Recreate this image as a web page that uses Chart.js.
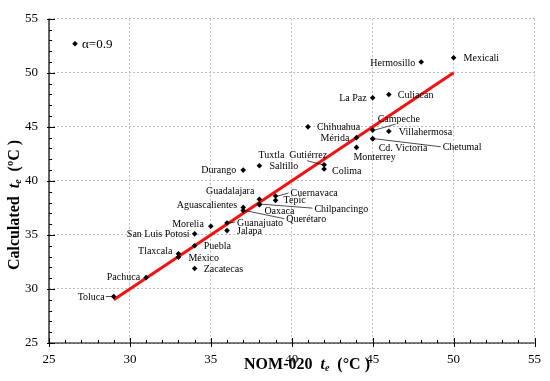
<!DOCTYPE html>
<html>
<head>
<meta charset="utf-8">
<script src="https://cdn.jsdelivr.net/npm/chart.js@4.4.1/dist/chart.umd.min.js"></script>
<style>
    html, body { margin: 0; padding: 0; background: #fff; }
    #wrap { width: 550px; height: 381px; }
</style>
</head>
<body>
<div id="wrap"><canvas id="chart" width="550" height="381"></canvas></div>
<script>
// cities and the two equilibrium temperatures (°C)
const cities = ['Mexicali', 'Hermosillo', 'La Paz', 'Culiacan', 'Chihuahua', 'Campeche', 'Villahermosa',
    'Mérida', 'Cd. Victoria', 'Chetumal', 'Monterrey', 'Tuxtla  Gutiérrez', 'Colima', 'Durango', 'Saltillo',
    'Guadalajara', 'Cuernavaca', 'Tepic', 'Chilpancingo', 'Oaxaca', 'Aguascalientes', 'Querétaro',
    'Guanajuato', 'Jalapa', 'Morelia', 'San Luis Potosí', 'Puebla', 'Tlaxcala', 'México', 'Zacatecas',
    'Pachuca', 'Toluca'];
const nomTe = [50, 48, 45, 46, 41, 45, 46, 44, 45, 45, 44, 42, 42, 37, 38,
    38, 39, 39, 38, 38, 37, 37, 36, 36, 35, 34, 34, 33, 33, 34, 31, 29];
const calcTe = [51.4, 51.0, 47.7, 48.0, 45.0, 44.7, 44.6, 44.0, 43.9, 43.9, 43.1, 41.5, 41.1, 41.0, 41.4,
    38.3, 38.6, 38.2, 37.85, 37.8, 37.55, 37.25, 36.1, 35.4, 35.8, 35.1, 34.0, 33.25, 32.95, 31.9, 31.05, 29.3];

// fitted line
const fitX = [29, 50];
const fitY = [29, 50];

const xTicks = [25, 30, 35, 40, 45, 50, 55];
const yTicks = [25, 30, 35, 40, 45, 50, 55];
const alphaText = 'α=0.9';

// label placement: dx, dy, align, optional leader line [x1, y1, x2, y2]
const labelPos = {
    'Mexicali': [10, 1, 'left'],
    'Hermosillo': [-6, 1, 'right'],
    'La Paz': [-6, 1, 'right'],
    'Culiacan': [9, 1, 'left'],
    'Chihuahua': [9, 1, 'left'],
    'Campeche': [5, -11, 'left', [23, -6, 2, 0]],
    'Villahermosa': [10, 1, 'left'],
    'Mérida': [-7, 1, 'right'],
    'Cd. Victoria': [6, 10, 'left'],
    'Chetumal': [70, 9, 'left', [2, 0, 68, 8]],
    'Monterrey': [-3, 10, 'left'],
    'Tuxtla  Gutiérrez': [3, -9, 'right', [-17, -4, -2, 0]],
    'Colima': [8, 2, 'left'],
    'Durango': [-7, 0, 'right'],
    'Saltillo': [10, 1, 'left'],
    'Guadalajara': [-5, -8, 'right'],
    'Cuernavaca': [15, -3, 'left', [2, 0, 13, -3]],
    'Tepic': [8, 0, 'left'],
    'Chilpancingo': [55, 5, 'left', [2, 0, 53, 4]],
    'Oaxaca': [5, 7, 'left'],
    'Aguascalientes': [-6, -2, 'right'],
    'Querétaro': [43, 9, 'left', [2, 0, 41, 8]],
    'Guanajuato': [10, 0, 'left', [2, 0, 8, -1]],
    'Jalapa': [10, 1, 'left'],
    'Morelia': [-7, -2, 'right'],
    'San Luis Potosí': [-5, 1, 'right'],
    'Puebla': [9, 1, 'left'],
    'Tlaxcala': [-6, -2, 'right'],
    'México': [10, 1, 'left'],
    'Zacatecas': [9, 1, 'left'],
    'Pachuca': [-6, 0, 'right'],
    'Toluca': [-9, 1, 'right', [-8, 0, -2, 0]]
};

const SERIF = '"Liberation Serif", "Times New Roman", serif';

// draw text made of several font runs
function drawRich(ctx, parts, x, y) {
    let total = 0;
    parts.forEach(p => {
        ctx.font = p.font;
        p.w = ctx.measureText(p.text).width;
        total += p.w;
    });
    let cx = x - total / 2;
    parts.forEach(p => {
        ctx.font = p.font;
        ctx.fillText(p.text, cx, y + (p.dy || 0));
        cx += p.w;
    });
}

function titleParts(first, last) {
    return [
        { text: first, font: `bold 16px ${SERIF}` },
        { text: 't', font: `italic bold 16px ${SERIF}` },
        { text: 'e', font: `italic bold 10px ${SERIF}`, dy: 3 },
        { text: last, font: `bold 16px ${SERIF}` }
    ];
}

function diamond(ctx, x, y, r) {
    ctx.beginPath();
    ctx.moveTo(x, y - r);
    ctx.lineTo(x + r, y);
    ctx.lineTo(x, y + r);
    ctx.lineTo(x - r, y);
    ctx.closePath();
    ctx.fill();
}

const overlayPlugin = {
    id: 'overlay',
    afterDatasetsDraw(chart) {
        const ctx = chart.ctx;
        const meta = chart.getDatasetMeta(0);
        ctx.save();
        ctx.fillStyle = '#000';
        ctx.strokeStyle = '#000';
        ctx.lineWidth = 0.7;
        ctx.font = `10px ${SERIF}`;
        ctx.textBaseline = 'middle';
        cities.forEach((name, i) => {
            const pt = meta.data[i];
            const pos = labelPos[name];
            ctx.textAlign = pos[2];
            ctx.fillText(name, pt.x + pos[0], pt.y + pos[1]);
            if (pos[3]) {
                const l = pos[3];
                ctx.beginPath();
                ctx.moveTo(pt.x + l[0], pt.y + l[1]);
                ctx.lineTo(pt.x + l[2], pt.y + l[3]);
                ctx.stroke();
            }
        });
        ctx.restore();
    },
    afterDraw(chart) {
        const ctx = chart.ctx;
        const xs = chart.scales.x;
        const ys = chart.scales.y;
        const area = chart.chartArea;
        ctx.save();
        ctx.strokeStyle = '#000';
        ctx.fillStyle = '#000';

        // axis lines
        ctx.lineWidth = 1.2;
        ctx.beginPath();
        ctx.moveTo(area.left, area.top);
        ctx.lineTo(area.left, area.bottom);
        ctx.lineTo(area.right, area.bottom);
        ctx.stroke();

        // major and minor ticks
        ctx.lineWidth = 1;
        for (let v = xs.min; v <= xs.max; v++) {
            const px = Math.round(xs.getPixelForValue(v)) + 0.5;
            const major = xTicks.includes(v);
            ctx.beginPath();
            ctx.moveTo(px, area.bottom + (major ? 4 : 0));
            ctx.lineTo(px, area.bottom - (major ? 5 : 3));
            ctx.stroke();
        }
        for (let v = ys.min; v <= ys.max; v++) {
            const py = Math.round(ys.getPixelForValue(v)) + 0.5;
            const major = yTicks.includes(v);
            ctx.beginPath();
            ctx.moveTo(area.left - (major ? 2 : 0), py);
            ctx.lineTo(area.left + (major ? 6 : 3), py);
            ctx.stroke();
        }

        // axis titles
        ctx.textAlign = 'left';
        ctx.textBaseline = 'middle';
        drawRich(ctx, titleParts('NOM-020  ', '  (°C )'), 307, 365);
        ctx.save();
        ctx.translate(15, 205);
        ctx.rotate(-Math.PI / 2);
        drawRich(ctx, titleParts('Calculated  ', '  (ºC )'), 0, 0);
        ctx.restore();

        // legend
        const lx = area.left + 26;
        const ly = area.top + 25;
        diamond(ctx, lx, ly, 2.8);
        ctx.font = `13px ${SERIF}`;
        ctx.fillText(alphaText, lx + 7, ly + 1);
        ctx.restore();
    }
};

const ctx = document.getElementById('chart');
new Chart(ctx, {
    type: 'scatter',
    data: {
        datasets: [{
            label: 'Cities',
            data: cities.map((c, i) => ({ x: nomTe[i], y: calcTe[i] })),
            pointStyle: 'rectRot',
            pointRadius: 2.8,
            pointBorderWidth: 0,
            backgroundColor: '#000',
            borderColor: '#000',
            order: 0
        }, {
            label: 'Fit',
            data: fitX.map((v, i) => ({ x: v, y: fitY[i] })),
            showLine: true,
            borderColor: '#f81010',
            borderWidth: 3,
            pointRadius: 0,
            order: 1
        }]
    },
    options: {
        responsive: false,
        animation: false,
        devicePixelRatio: 1,
        layout: { padding: { top: 10, right: 10, left: 0, bottom: 0 } },
        plugins: {
            legend: { display: false },
            tooltip: { enabled: false }
        },
        scales: {
            x: {
                type: 'linear',
                min: 25,
                max: 55,
                afterBuildTicks: scale => { scale.ticks = xTicks.map(v => ({ value: v })); },
                afterFit: scale => { scale.height = 38; },
                ticks: {
                    color: '#000',
                    font: { family: SERIF, size: 13 },
                    padding: 9,
                    maxRotation: 0
                },
                grid: { color: '#bdbdbd', lineWidth: 1, drawTicks: false },
                border: { display: false, dash: [2, 2] }
            },
            y: {
                type: 'linear',
                min: 25,
                max: 55,
                afterBuildTicks: scale => { scale.ticks = yTicks.map(v => ({ value: v })); },
                afterFit: scale => { scale.width = 49; },
                ticks: {
                    color: '#000',
                    font: { family: SERIF, size: 13 },
                    padding: 11
                },
                grid: { color: '#bdbdbd', lineWidth: 1, drawTicks: false },
                border: { display: false, dash: [2, 2] }
            }
        }
    },
    plugins: [overlayPlugin]
});
</script>
</body>
</html>
